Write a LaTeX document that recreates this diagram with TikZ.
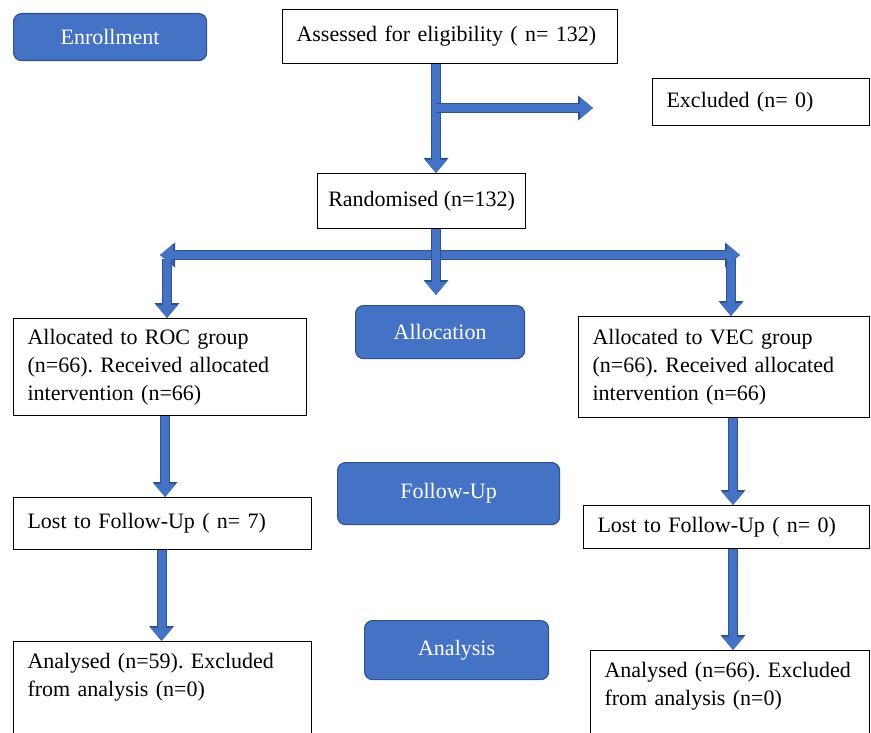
\documentclass[tikz,border=0pt]{standalone}
\usepackage{fontspec}
\setmainfont{Liberation Serif}
\usetikzlibrary{arrows.meta}
\definecolor{flowblue}{HTML}{4472C4}
\definecolor{flowedge}{HTML}{2F528F}
\newcommand{\fs}{\fontsize{22}{28}\selectfont\frenchspacing}
\hyphenpenalty=10000

\begin{document}
\begin{tikzpicture}[x=1pt,y=-1pt,
   stepbox/.style={rectangle,draw,line width=1.1pt,anchor=north west,align=left,inner xsep=14pt,font=\fs},
   phase/.style={rectangle,rounded corners=8pt,draw=flowedge,line width=1.2pt,fill=flowblue,text=white,anchor=north west,font=\fs},
   flow/.style={line width=8pt,draw=flowblue,-{Triangle[width=21pt,length=13pt]},
      preaction={draw=flowedge,line width=10pt,-{Triangle[width=24pt,length=15pt]}}},
   flowboth/.style={line width=8pt,draw=flowblue,{Triangle[width=21pt,length=13pt]}-{Triangle[width=21pt,length=13pt]},
      preaction={draw=flowedge,line width=10pt,{Triangle[width=24pt,length=15pt]}-{Triangle[width=24pt,length=15pt]}}}]
   \useasboundingbox (0,0) rectangle (871,733);
   % phase labels
   \node (enroll) at ( 13, 13) [phase,minimum width=193pt,minimum height=47pt] {Enrollment};
   \node (alloc)  at (355,305) [phase,minimum width=169pt,minimum height=53pt] {Allocation};
   \node (follow) at (337,462) [phase,minimum width=222pt,minimum height=62pt] {Follow-Up};
   \node (anal)   at (364,620) [phase,minimum width=184pt,minimum height=59pt] {Analysis};
   % boxes
   \node (assess)  at (282,  9) [stepbox,text width=307pt,minimum height=54pt] {Assessed for eligibility ( n= 132)};
   \node (excl)    at (652, 78) [stepbox,text width=189pt,minimum height=47pt] {Excluded (n= 0)};
   \node (rand)    at (317,173) [stepbox,inner xsep=8pt,minimum width=208pt,minimum height=55pt] {Randomised (n=132)};
   \node (roc)     at ( 13,318) [stepbox,text width=265pt,minimum height=97pt] {Allocated to ROC group\\(n=66). Received allocated\\intervention (n=66)};
   \node (vec)     at (578,316) [stepbox,text width=263pt,minimum height=101pt] {Allocated to VEC group\\(n=66). Received allocated\\intervention (n=66)};
   \node (lostroc) at ( 13,497) [stepbox,text width=270pt,minimum height=52pt] {Lost to Follow-Up ( n= 7)};
   \node (lostvec) at (583,505) [stepbox,text width=258pt,minimum height=43pt] {Lost to Follow-Up ( n= 0)};
   \node (anaroc)  at ( 13,641) [stepbox,text width=270pt,inner ysep=12pt,text depth=60pt] {Analysed (n=59). Excluded\\from analysis (n=0)};
   \node (anavec)  at (590,650) [stepbox,text width=251pt,inner ysep=12pt,text depth=60pt] {Analysed (n=66). Excluded\\from analysis (n=0)};
   % free ends
   \coordinate (trunk)  at (436,108);
   \coordinate (exarr)  at (593,108);
   \coordinate (splitL) at (160,255);
   \coordinate (splitR) at (740,255);
   % arrows
   \draw[flow] (trunk |- assess.south) to (trunk |- rand.north);
   \draw[flow] (trunk) to (exarr);
   \draw[flowboth] (splitL) to (splitR);
   \draw[flow] (trunk |- rand.south) to ([yshift=10pt]trunk |- alloc.north);
   \draw[flow] ([xshift=7pt]splitL |- 0,259) to ([xshift=7pt]splitL |- roc.north);
   \draw[flow] ([xshift=-9pt]splitR |- 0,259) to ([xshift=-9pt]splitR |- vec.north);
   \draw[flow] ([xshift=5pt]roc.south) to ([xshift=5pt]roc.south |- lostroc.north);
   \draw[flow] (vec.south -| 733,0) to (733,0 |- lostvec.north);
   \draw[flow] ([xshift=-1pt]lostroc.south) to ([xshift=-1pt]lostroc.south |- anaroc.north);
   \draw[flow] (lostvec.south -| 733,0) to (733,0 |- anavec.north);
\end{tikzpicture}
\end{document}
